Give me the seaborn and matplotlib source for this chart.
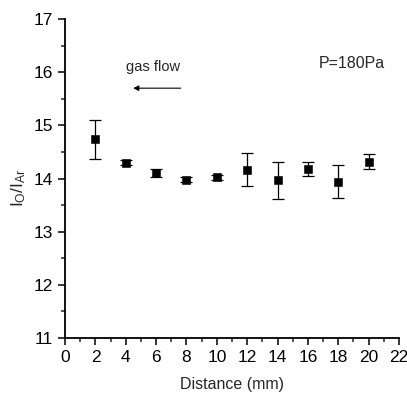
import numpy as np
import pandas as pd
import seaborn as sns
import matplotlib.pyplot as plt
from matplotlib.ticker import MultipleLocator

# Data
distance = [2, 4, 6, 8, 10, 12, 14, 16, 18, 20]
ratio = [14.74, 14.30, 14.10, 13.98, 14.02, 14.16, 13.97, 14.18, 13.94, 14.32]
err_low = [0.37, 0.05, 0.07, 0.04, 0.04, 0.30, 0.35, 0.13, 0.30, 0.15]
err_high = [0.37, 0.05, 0.07, 0.04, 0.04, 0.32, 0.35, 0.13, 0.31, 0.14]

df = pd.DataFrame({'distance': distance, 'ratio': ratio})

sns.set_style('ticks')
plt.rcParams['font.family'] = ['Liberation Sans', 'DejaVu Sans']
plt.rcParams['mathtext.default'] = 'regular'

fig = plt.figure(figsize=(4.07, 3.98), dpi=100)
ax = fig.add_axes([0.160, 0.151, 0.820, 0.801])

ax.errorbar(df['distance'], df['ratio'], yerr=[err_low, err_high], fmt='none',
            ecolor='black', elinewidth=0.9, capsize=4.5, capthick=0.9, zorder=2)
sns.scatterplot(data=df, x='distance', y='ratio', marker='s', s=26, color='black',
                edgecolor='black', ax=ax, zorder=3)

ax.set_xlim(0, 22)
ax.set_ylim(11, 17)
ax.xaxis.set_major_locator(MultipleLocator(2))
ax.xaxis.set_minor_locator(MultipleLocator(1))
ax.yaxis.set_major_locator(MultipleLocator(1))
ax.yaxis.set_minor_locator(MultipleLocator(0.5))
ax.tick_params(which='major', direction='out', length=5, width=1.1, labelsize=12.5, colors='black')
ax.tick_params(which='minor', direction='out', length=3, width=1.1)

sns.despine(ax=ax)
for side in ['left', 'bottom']:
    ax.spines[side].set_linewidth(1.3)
    ax.spines[side].set_color('black')

ax.set_xlabel('Distance (mm)', fontsize=11.5, labelpad=9)
ax.set_ylabel('I$_O$/I$_{Ar}$', fontsize=12.5)
ax.yaxis.set_label_coords(-0.11, 0.47)

ax.text(5.8, 16.1, 'gas flow', fontsize=10.5, ha='center', va='center')
ax.annotate('', xy=(4.3, 15.7), xytext=(7.8, 15.7),
            arrowprops=dict(arrowstyle='-|>', color='black', lw=0.8, mutation_scale=8))
ax.text(18.9, 16.17, 'P=180Pa', fontsize=11.5, ha='center', va='center')

fig.savefig('out.png', dpi=100)
